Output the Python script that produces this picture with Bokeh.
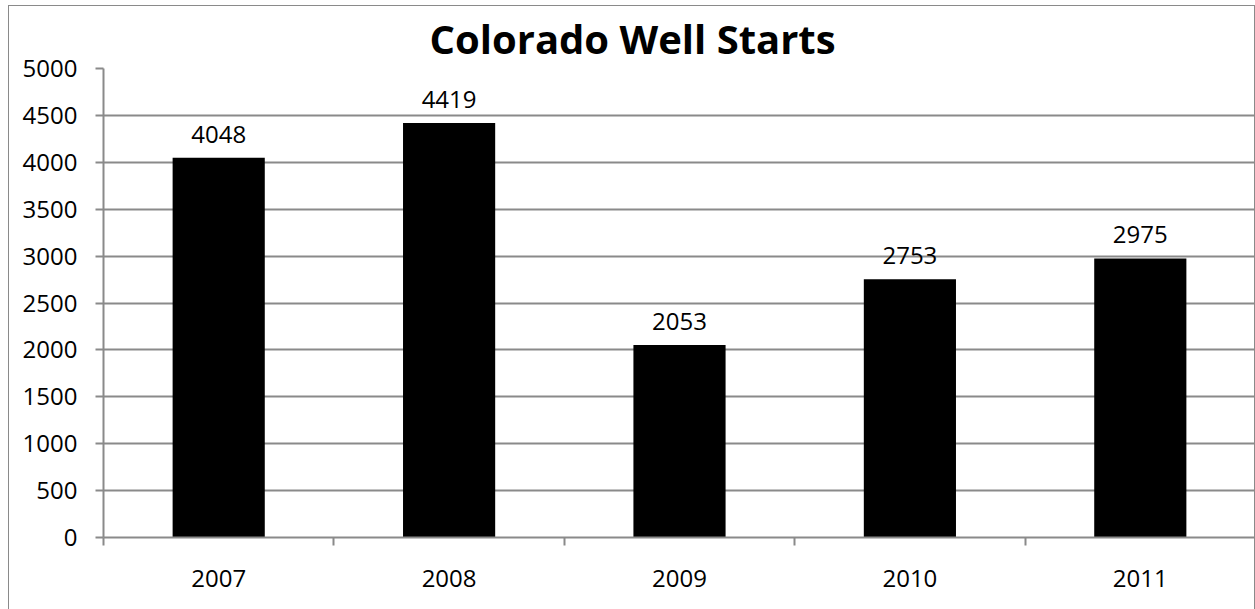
import numpy as np
from bokeh.plotting import figure
from bokeh.models import ColumnDataSource, FixedTicker, LabelSet, Range1d
from bokeh.core.properties import value
from bokeh.embed import file_html
from bokeh.resources import INLINE

# ---- data ----
categories = ["2007", "2008", "2009", "2010", "2011"]
values = [4048, 4419, 2053, 2753, 2975]
y_ticks = [0, 500, 1000, 1500, 2000, 2500, 3000, 3500, 4000, 4500, 5000]
title_text = "Colorado Well Starts"

FONT = "Open Sans"
GRAY = "#8a8a8a"

n = len(categories)
centers = [i + 0.5 for i in range(n)]
source = ColumnDataSource(dict(x=centers, top=values, label=[str(v) for v in values]))

p = figure(width=1247, height=604, output_backend="svg", toolbar_location=None,
           x_range=Range1d(0, n), y_range=Range1d(0, 5000),
           title=title_text)
p.styles = {"margin-left": "8px", "margin-top": "5px",
            "box-shadow": "inset 1px 1px 0 %s, inset -1px 0 0 %s" % (GRAY, GRAY)}
p.min_border_left = 95
p.min_border_right = 0
p.min_border_top = 63
p.min_border_bottom = 72
p.outline_line_color = None
p.background_fill_color = None
p.border_fill_color = None

p.title.align = "left"
p.title.offset = 326
p.title.standoff = 6
p.title.text_font = FONT
p.title.text_font_style = "bold"
p.title.text_font_size = "40px"
p.title.text_color = "black"

p.vbar(x="x", top="top", width=0.4, source=source, fill_color="black", line_color=None)

labels = LabelSet(x="x", y="top", text="label", source=source, y_offset=15,
                  text_align="center", text_baseline="alphabetic",
                  text_font=value(FONT), text_font_size=value("24px"), text_color="black")
p.add_layout(labels)

# y axis
p.yaxis.ticker = FixedTicker(ticks=y_ticks)
p.yaxis.axis_line_color = GRAY
p.yaxis.axis_line_width = 2
p.yaxis.major_tick_line_color = GRAY
p.yaxis.major_tick_line_width = 2
p.yaxis.major_tick_out = 8
p.yaxis.major_tick_in = 0
p.yaxis.minor_tick_line_color = None
p.yaxis.major_label_standoff = 18
p.yaxis.major_label_text_font = FONT
p.yaxis.major_label_text_font_size = "24px"
p.yaxis.major_label_text_color = "black"

# x axis: labels at category centres, tick marks at category boundaries
p.xaxis.ticker = FixedTicker(ticks=centers, minor_ticks=list(range(n + 1)))
p.xaxis.major_label_overrides = {c: cat for c, cat in zip(centers, categories)}
p.xaxis.axis_line_color = GRAY
p.xaxis.axis_line_width = 2
p.xaxis.major_tick_line_color = None
p.xaxis.major_tick_out = 0
p.xaxis.major_tick_in = 0
p.xaxis.minor_tick_line_color = GRAY
p.xaxis.minor_tick_line_width = 2
p.xaxis.minor_tick_out = 8
p.xaxis.minor_tick_in = 0
p.xaxis.major_label_standoff = 24
p.xaxis.major_label_text_font = FONT
p.xaxis.major_label_text_font_size = "24px"
p.xaxis.major_label_text_color = "black"

p.xgrid.grid_line_color = None
p.ygrid.ticker = FixedTicker(ticks=y_ticks)
p.ygrid.grid_line_color = GRAY
p.ygrid.grid_line_width = 2

open("out.html", "w").write(file_html(p, INLINE))
